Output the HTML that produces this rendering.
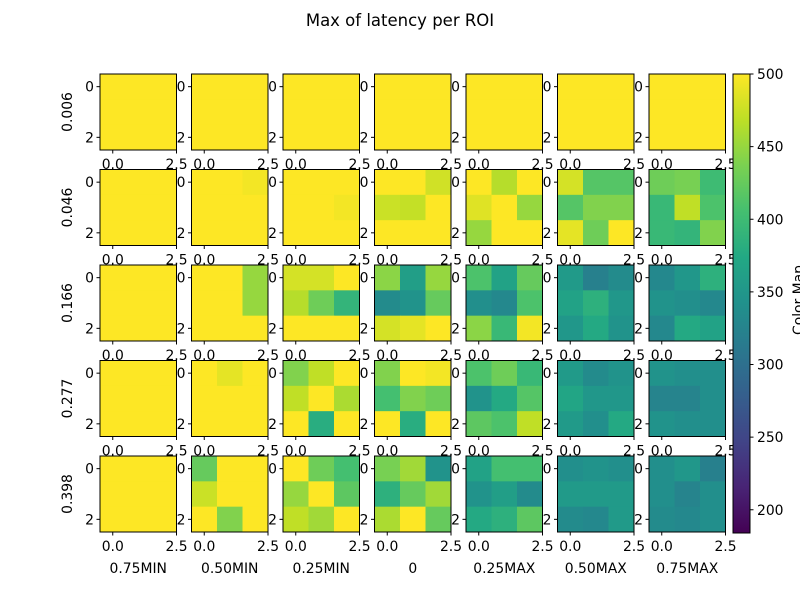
<!DOCTYPE html>
<html><head><meta charset="utf-8">
<style>
body{margin:0;background:#fff;}
svg{display:block;font-family:"DejaVu Sans","Liberation Sans",sans-serif;}
</style></head>
<body>
<svg id="chart" width="800" height="600" viewBox="0 0 800 600" xmlns="http://www.w3.org/2000/svg">
<rect width="800" height="600" fill="#fff"/>
<text x="400" y="26" font-size="16.5" text-anchor="middle">Max of latency per ROI</text>
</svg>
<script>
const rowLabels = ["0.006","0.046","0.166","0.277","0.398"];
const colLabels = ["0.75MIN","0.50MIN","0.25MIN","0","0.25MAX","0.50MAX","0.75MAX"];
const xTickLabels = ["0.0","2.5"];
const yTickLabels = ["0","2"];
const cbTicks = [200,250,300,350,400,450,500];
const vmin = 184, vmax = 500;
const Y = [500,500,500,500,500,500,500,500,500];
const gridData = [
 [Y,Y,Y,Y,Y,Y,Y],
 [Y,
  [500,500,495,500,500,500,500,500,500],
  [500,500,500,500,500,495,500,500,500],
  [500,500,478,475,472,500,500,500,500],
  [500,465,500,485,500,450,450,500,500],
  [480,415,415,415,440,440,488,430,500],
  [430,435,400,395,470,410,395,390,440]],
 [Y,
  [500,500,450,500,500,450,500,500,500],
  [480,480,500,465,430,390,500,500,500],
  [445,360,450,335,345,425,480,488,500],
  [410,365,425,340,330,410,445,395,495],
  [355,320,335,365,385,350,350,375,345],
  [330,350,385,345,340,330,330,375,365]],
 [Y,
  [500,488,500,500,500,500,500,500,500],
  [440,470,500,470,500,460,500,380,500],
  [440,500,495,405,440,430,500,380,500],
  [410,430,395,345,375,415,420,410,470],
  [355,335,345,370,350,350,355,340,375],
  [345,340,340,325,325,340,345,340,340]],
 [Y,
  [425,500,500,475,500,500,500,440,500],
  [500,430,405,450,500,420,470,455,500],
  [435,455,345,385,425,455,460,500,425],
  [365,405,405,345,360,335,375,385,420],
  [340,345,340,355,355,355,335,330,355],
  [340,350,320,340,325,340,335,330,340]]
];
const stops=["#440154","#482475","#414487","#355f8d","#2a788e","#21918c","#22a884","#44bf70","#7ad151","#bddf26","#fde725"];
function hex(h){return [1,3,5].map(i=>parseInt(h.substr(i,2),16));}
function viridis(v){
  let t=Math.max(0,Math.min(1,(v-vmin)/(vmax-vmin)))*10;
  let i=Math.min(9,Math.floor(t)),f=t-i;
  const a=hex(stops[i]),b=hex(stops[i+1]);
  return "rgb("+a.map((x,k)=>Math.round(x+(b[k]-x)*f)).join(",")+")";
}
const NS="http://www.w3.org/2000/svg";
const svg=document.getElementById("chart");
function el(tag,attrs,parent){const e=document.createElementNS(NS,tag);for(const k in attrs)e.setAttribute(k,attrs[k]);(parent||svg).appendChild(e);return e;}
const AX0=100, AY0=74, DX=91.5, DY=95.5, W=76.5, H=76;
const colX=c=>AX0+c*DX, rowY=r=>AY0+r*DY;
const cellX=(c,j)=>colX(c)+j*W/3, cellY=(r,i)=>rowY(r)+i*H/3;
const dataX=(c,v)=>colX(c)+(v+0.5)*W/3, dataY=(r,v)=>rowY(r)+(v+0.5)*H/3;
for(let r=0;r<5;r++){for(let c=0;c<7;c++){
  const g=el("g",{});
  
  
  const vals=gridData[r][c];
  for(let i=0;i<3;i++)for(let j=0;j<3;j++){
    const rc=el("rect",{x:cellX(c,j),y:cellY(r,i),width:W/3+0.4,height:H/3+0.4,fill:viridis(vals[i*3+j])},g);
    
    
  }
  el("rect",{x:colX(c),y:rowY(r),width:W,height:H,fill:"none",stroke:"#000","stroke-width":1},g);
  [0,2.5].forEach((v,k)=>{
    const x=dataX(c,v);
    el("line",{x1:x,x2:x,y1:rowY(r)+H,y2:rowY(r)+H+3.5,stroke:"#000"},g);
    const t=el("text",{x:x,y:rowY(r)+H+19,"font-size":13.9,"text-anchor":"middle"},g);
    
    
    t.textContent=xTickLabels[k];
  });
  [0,2].forEach((v,k)=>{
    const y=dataY(r,v);
    el("line",{x1:colX(c)-3.5,x2:colX(c),y1:y,y2:y,stroke:"#000"},g);
    const t=el("text",{x:colX(c)-6,y:y+5,"font-size":13.9,"text-anchor":"end"},g);
    
    
    t.textContent=yTickLabels[k];
  });
}}
rowLabels.forEach((l,r)=>{
  const cy=rowY(r)+H/2;
  const t=el("text",{x:0,y:0,"font-size":13.9,"text-anchor":"middle",transform:"translate(72,"+cy+") rotate(-90)"});
  
  
  t.textContent=l;
});
colLabels.forEach((l,c)=>{
  const t=el("text",{x:colX(c)+W/2,y:573,"font-size":13.9,"text-anchor":"middle"});
  
  
  t.textContent=l;
});
const CBX=733, CBW=17, CBT=74, CBB=533;
const cbY=v=>CBB-(v-vmin)/(vmax-vmin)*(CBB-CBT);
const defs=el("defs",{});
const lg=el("linearGradient",{id:"vir",x1:0,y1:1,x2:0,y2:0},defs);
stops.forEach((s,i)=>el("stop",{offset:i/10,"stop-color":s},lg));
const cb=el("rect",{x:CBX,y:CBT,width:CBW,height:CBB-CBT,fill:"url(#vir)",stroke:"#000","stroke-width":1});


cbTicks.forEach(v=>{
  const y=cbY(v);
  el("line",{x1:CBX+CBW,x2:CBX+CBW+3.5,y1:y,y2:y,stroke:"#000"});
  const t=el("text",{x:CBX+CBW+7,y:y+5,"font-size":13.9});
  
  
  t.textContent=v;
});
const cl=el("text",{x:0,y:0,"font-size":13.9,"text-anchor":"middle",transform:"translate(803,300) rotate(-90)"});


cl.textContent="Color Map";
</script>
</body></html>
